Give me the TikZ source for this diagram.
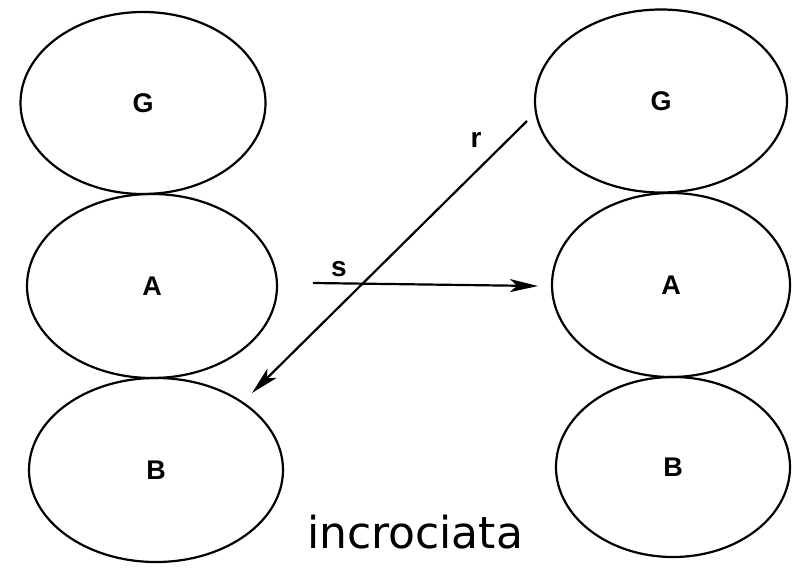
\documentclass[tikz,border=0pt]{standalone}
\usepackage{fontspec}
\usepackage{tikz}
\usetikzlibrary{positioning, arrows.meta, shapes.geometric, calc}
\newfontfamily\lettfont{Liberation Sans}
\newfontfamily\capfont{DejaVu Sans}
\tikzset{
    blob/.style={
        ellipse, draw=black, line width=2.2pt,
        inner sep=0pt,
        font=\lettfont\bfseries\fontsize{27}{27}\selectfont
    },
    msg/.style={
        -{Stealth[length=28pt, width=13pt, inset=7pt]}, line width=2.2pt
    },
    tag/.style={
        font=\lettfont\bfseries\fontsize{28}{28}\selectfont
    }
}

\begin{document}
\begin{tikzpicture}[x=1pt, y=-1pt]
\useasboundingbox (0,0) rectangle (809,570);

% colonna di sinistra
\node[blob, minimum width=245pt, minimum height=182pt] (lG) at (143,103) {G};
\node[blob, minimum width=250pt, minimum height=184pt] (lA) at (152,286) {A};
\node[blob, minimum width=254pt, minimum height=184pt] (lB) at (156,470) {B};

% colonna di destra
\node[blob, minimum width=252pt, minimum height=183pt] (rG) at (661,101) {G};
\node[blob, minimum width=238pt, minimum height=184pt] (rA) at (671,285) {A};
\node[blob, minimum width=234pt, minimum height=180pt] (rB) at (673,467) {B};

% scambio incrociato
\coordinate (rstart) at (527,121);
\coordinate (rend) at (252,393);
\coordinate (sstart) at (313,283);
\coordinate (send) at (538,286);

\draw[msg] (rstart) -- (rend);
\draw[msg] (sstart) -- (send);

\node[tag] (rlab) at (476,140) {r};
\node[tag] (slab) at (339,269) {s};

\node[font=\capfont\fontsize{44}{44}\selectfont] (caption) at (415,532) {incrociata};
\end{tikzpicture}
\end{document}
